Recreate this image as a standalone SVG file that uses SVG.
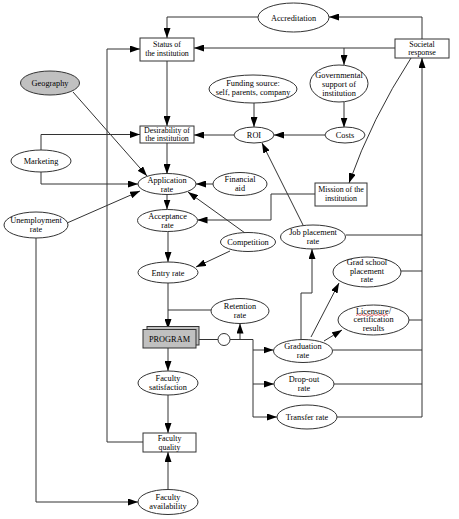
<svg xmlns="http://www.w3.org/2000/svg" width="459" height="519" viewBox="0 0 459 519">
<style>
.n{fill:#fff;stroke:#333;stroke-width:1}
.g{fill:#c0c0c0;stroke:#333;stroke-width:1}
text{font-family:"Liberation Serif","Times New Roman",serif;font-size:8.3px;fill:#000;text-anchor:middle}
.s{font-size:7.9px}
.c path,.c line{fill:none;stroke:#333;stroke-width:1}
</style>
<defs>
<marker id="a" markerUnits="userSpaceOnUse" markerWidth="10" markerHeight="7" refX="10" refY="3.5" orient="auto">
<path d="M0,0 L10,3.5 L0,7 z" fill="#000"/>
</marker>
</defs>
<rect width="459" height="519" fill="#fff"/>
<g class="c">
<path d="M258,17 H167 V38" marker-end="url(#a)"/>
<path d="M422,39 V17 H329" marker-end="url(#a)"/>
<path d="M395,48 H194" marker-end="url(#a)"/>
<path d="M344,48 V65" marker-end="url(#a)"/>
<path d="M344,102 V127.5" marker-end="url(#a)"/>
<path d="M325,135 H274" marker-end="url(#a)"/>
<path d="M254,103 V127" marker-end="url(#a)"/>
<path d="M234,135 H194" marker-end="url(#a)"/>
<path d="M167,61 V126" marker-end="url(#a)"/>
<path d="M167,143 V174" marker-end="url(#a)"/>
<path d="M73,92 L147,176" marker-end="url(#a)"/>
<path d="M41,150 V134.5 H140" marker-end="url(#a)"/>
<path d="M41,172 V184 H138" marker-end="url(#a)"/>
<path d="M143,442 H107 V49 H140" marker-end="url(#a)"/>
<path d="M213,184 H196" marker-end="url(#a)"/>
<path d="M167,194.5 V209.5" marker-end="url(#a)"/>
<path d="M315,194 H271 V220 H197.5" marker-end="url(#a)"/>
<path d="M245,233 L188,192" marker-end="url(#a)"/>
<path d="M230,251 L196,267" marker-end="url(#a)"/>
<path d="M168,231.5 V262" marker-end="url(#a)"/>
<path d="M168,283 V329" marker-end="url(#a)"/>
<path d="M211,310 H168"/>
<path d="M411,58 Q372,118 349,183" marker-end="url(#a)"/>
<path d="M303,225 L262,143" marker-end="url(#a)"/>
<path d="M346,235 H422 M401,271 H422 M409,320 H422 M333,350 H422 M334,384 H422 M337,417 H422"/>
<path d="M422,417 V58" marker-end="url(#a)"/>
<path d="M196,339.5 H218 M230,339.5 H253 V417"/>
<path d="M240,339.5 V323.5" marker-end="url(#a)"/>
<path d="M253,350 H273.5" marker-end="url(#a)"/>
<path d="M253,384 H274" marker-end="url(#a)"/>
<path d="M253,417 H277" marker-end="url(#a)"/>
<path d="M301,340 V293 H312 V249" marker-end="url(#a)"/>
<path d="M311,337 L339,283" marker-end="url(#a)"/>
<path d="M324,341 L342,330" marker-end="url(#a)"/>
<path d="M168,348 V371" marker-end="url(#a)"/>
<path d="M168,395 V433" marker-end="url(#a)"/>
<path d="M168,489.5 V452" marker-end="url(#a)"/>
<path d="M67,223 L140,191" marker-end="url(#a)"/>
<path d="M36,238 V502 H138" marker-end="url(#a)"/>
</g>
<g id="accreditation"><ellipse class="n" cx="293.5" cy="17.5" rx="35.5" ry="14.5"/><text x="293.5" y="20.5">Accreditation</text></g>
<g id="status"><rect class="n" x="140" y="38" width="54" height="23"/><text class="s" x="167" y="47">Status of</text><text class="s" x="167" y="56">the institution</text></g>
<g id="societal"><rect class="n" x="395" y="39" width="54" height="19"/><text class="s" x="422" y="46.5">Societal</text><text class="s" x="422" y="55">response</text></g>
<g id="geography"><ellipse class="g" cx="50" cy="83" rx="29.5" ry="12"/><text x="50" y="86">Geography</text></g>
<g id="funding"><ellipse class="n" cx="253" cy="89" rx="44" ry="14"/><text x="253" y="85.5">Funding source:</text><text x="253" y="95">self, parents, company</text></g>
<g id="governmental"><ellipse class="n" cx="339" cy="83.5" rx="29" ry="18.5"/><text x="339" y="78">Governmental</text><text x="339" y="87">support of</text><text x="339" y="95.5">institution</text></g>
<g id="desirability"><rect class="n" x="140" y="126" width="54" height="17"/><text class="s" x="167" y="133">Desirability of</text><text class="s" x="167" y="141.3">the institution</text></g>
<g id="roi"><ellipse class="n" cx="254" cy="135" rx="20" ry="8"/><text x="254" y="138">ROI</text></g>
<g id="costs"><ellipse class="n" cx="345" cy="135" rx="20" ry="8"/><text x="345" y="138">Costs</text></g>
<g id="marketing"><ellipse class="n" cx="41" cy="161" rx="30" ry="11"/><text x="41" y="164">Marketing</text></g>
<g id="application"><ellipse class="n" cx="167" cy="184" rx="29" ry="10.5"/><text x="167" y="182.5">Application</text><text x="167" y="191.5">rate</text></g>
<g id="financial"><ellipse class="n" cx="240" cy="184" rx="27" ry="11.5"/><text x="240" y="182">Financial</text><text x="240" y="191">aid</text></g>
<g id="mission"><rect class="n" x="315" y="183" width="52" height="23"/><text class="s" x="341" y="192">Mission of the</text><text class="s" x="341" y="201">institution</text></g>
<g id="unemployment"><ellipse class="n" cx="36" cy="225" rx="32" ry="13"/><text x="36" y="223">Unemployment</text><text x="36" y="232">rate</text></g>
<g id="acceptance"><ellipse class="n" cx="167.5" cy="220.5" rx="30" ry="11"/><text x="167.5" y="218.5">Acceptance</text><text x="167.5" y="227.5">rate</text></g>
<g id="competition"><ellipse class="n" cx="248" cy="242" rx="27.5" ry="9.5"/><text x="248" y="245">Competition</text></g>
<g id="job"><ellipse class="n" cx="313" cy="237" rx="32.5" ry="12"/><text x="313" y="234.5">Job placement</text><text x="313" y="243.5">rate</text></g>
<g id="entry"><ellipse class="n" cx="168" cy="272.5" rx="30" ry="10.5"/><text x="168" y="275.5">Entry rate</text></g>
<g id="gradschool"><ellipse class="n" cx="367" cy="272" rx="34" ry="15"/><text x="367" y="265.3">Grad school</text><text x="367" y="273.8">placement</text><text x="367" y="282.3">rate</text></g>
<g id="retention"><ellipse class="n" cx="240" cy="311" rx="29" ry="12.5"/><text x="240" y="309">Retention</text><text x="240" y="318">rate</text></g>
<g id="licensure"><ellipse class="n" cx="373.5" cy="320" rx="35.5" ry="15"/><text x="373.5" y="313.7">Licensure/</text><path d="M356,315.5 l2,-1 l2,1 l2,-1 l2,1 l2,-1 l2,1 l2,-1 l2,1 l2,-1 l2,1 l2,-1 l2,1 l2,-1 l2,1 l2,-1 l2,1" fill="none" stroke="#d02020" stroke-width="0.7"/><text x="373.5" y="322.3">certification</text><text x="373.5" y="331">results</text></g>
<g id="program"><rect class="g" x="147" y="326.5" width="52" height="18.5"/><rect class="g" x="143" y="329.5" width="53" height="18.5"/><text x="169.5" y="342">PROGRAM</text></g>
<g id="junction"><circle class="n" cx="224" cy="339.5" r="6"/></g>
<g id="graduation"><ellipse class="n" cx="303" cy="351" rx="29.5" ry="11.5"/><text x="303" y="349">Graduation</text><text x="303" y="358">rate</text></g>
<g id="facsat"><ellipse class="n" cx="168" cy="383" rx="30" ry="12"/><text x="168" y="381">Faculty</text><text x="168" y="390">satisfaction</text></g>
<g id="dropout"><ellipse class="n" cx="304" cy="384" rx="30" ry="12.5"/><text x="304" y="382">Drop-out</text><text x="304" y="391">rate</text></g>
<g id="transfer"><ellipse class="n" cx="307" cy="417" rx="30" ry="12"/><text x="307" y="420">Transfer rate</text></g>
<g id="facquality"><rect class="n" x="143" y="433" width="53" height="19"/><text class="s" x="169.5" y="441">Faculty</text><text class="s" x="169.5" y="449.5">quality</text></g>
<g id="facavail"><ellipse class="n" cx="168" cy="502" rx="30" ry="12.5"/><text x="168" y="500">Faculty</text><text x="168" y="509">availability</text></g>
</svg>
